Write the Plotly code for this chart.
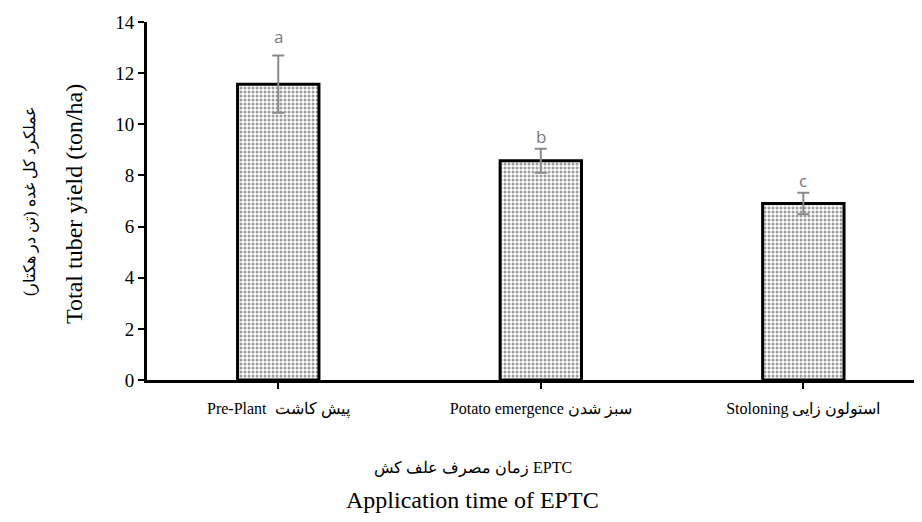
import plotly.graph_objects as go

categories = ["Pre-Plant  پیش کاشت", "Potato emergence سبز شدن", "Stoloning استولون زایی"]
yield_values = [11.57, 8.57, 6.90]
error_values = [1.12, 0.47, 0.42]
letters = ["a", "b", "c"]
letter_y = [13.44, 9.51, 7.82]
y_ticks = [0, 2, 4, 6, 8, 10, 12, 14]

serif = "Liberation Serif, Times New Roman, DejaVu Serif, serif"

fig = go.Figure()
fig.add_trace(go.Bar(
    x=list(range(len(categories))),
    y=yield_values,
    width=0.31,
    marker=dict(
        color="white",
        line=dict(color="black", width=3),
        pattern=dict(shape=".", fgcolor="#3a3a3a", bgcolor="white", size=4, solidity=0.45),
    ),
    error_y=dict(type="data", array=error_values, visible=True, color="#8a8a8a", thickness=2, width=6),
    showlegend=False,
))

for i, (ly, l) in enumerate(zip(letter_y, letters)):
    fig.add_annotation(x=i, y=ly, text=l, showarrow=False, yanchor="middle",
                       font=dict(family="Open Sans, Liberation Sans, sans-serif", size=17, color="#7a7a7a"))

# y-axis titles (two lines)
fig.add_annotation(xref="paper", yref="paper", x=0, y=0.5, xshift=-73, yshift=-3, textangle=-90,
                   text="Total tuber yield (ton/ha)", showarrow=False, xanchor="center", yanchor="middle",
                   font=dict(family=serif, size=24, color="black"))
fig.add_annotation(xref="paper", yref="paper", x=0, y=0.5, xshift=-117, textangle=-90,
                   text="عملکرد کل غده (تن در هکتار)", showarrow=False, xanchor="center", yanchor="middle",
                   font=dict(family=serif, size=16, color="black"))
# x-axis titles (two lines)
fig.add_annotation(xref="paper", yref="paper", x=0.42, y=0, yshift=-88,
                   text="زمان مصرف علف کش EPTC", showarrow=False, xanchor="center", yanchor="middle",
                   font=dict(family=serif, size=16, color="black"))
fig.add_annotation(xref="paper", yref="paper", x=0.42, y=0, yshift=-120,
                   text="Application time of EPTC", showarrow=False, xanchor="center", yanchor="middle",
                   font=dict(family=serif, size=24, color="black"))

# page body has an 8px default margin, so the figure is sized/placed to compensate
fig.update_layout(
    width=914, height=514,
    margin=dict(l=139, r=0, t=14, b=142),
    paper_bgcolor="white", plot_bgcolor="white",
    font=dict(family=serif, color="black"),
)
fig.update_xaxes(
    range=[-0.5, 2.452],
    tickmode="array", tickvals=list(range(len(categories))), ticktext=categories,
    tickson="boundaries", ticks="outside", ticklen=6, tickwidth=2, tickcolor="black",
    ticklabelstandoff=6,
    showline=True, linecolor="black", linewidth=3, showgrid=False, zeroline=False,
    tickfont=dict(family=serif, size=16, color="black"),
)
fig.update_yaxes(
    range=[0, 14], tickmode="array", tickvals=y_ticks,
    ticks="outside", ticklen=6, tickwidth=2, tickcolor="black",
    showline=True, linecolor="black", linewidth=3, showgrid=False, zeroline=False,
    tickfont=dict(family=serif, size=19, color="black"),
)

fig.write_html("out.html")
